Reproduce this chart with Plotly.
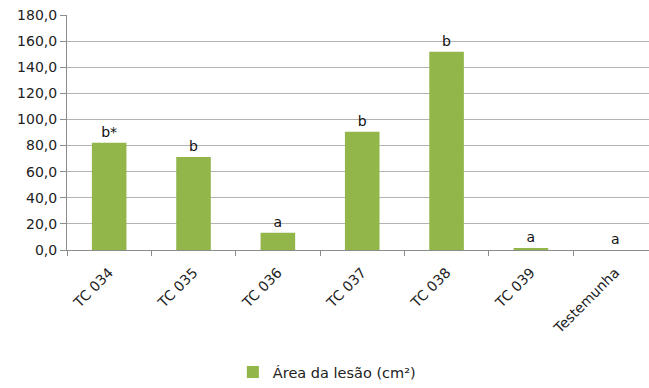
import plotly.graph_objects as go

categories = ["TC 034", "TC 035", "TC 036", "TC 037", "TC 038", "TC 039", "Testemunha"]
values = [82.1, 71.2, 13.3, 90.6, 151.8, 1.5, 0.0]
letters = ["b*", "b", "a", "b", "b", "a", "a"]
y_ticks = [0, 20, 40, 60, 80, 100, 120, 140, 160, 180]
y_tick_labels = ["0,0", "20,0", "40,0", "60,0", "80,0", "100,0", "120,0", "140,0", "160,0", "180,0"]

font_family = "DejaVu Sans"

fig = go.Figure()
fig.add_trace(go.Bar(
    x=categories,
    y=values,
    name="Área da lesão (cm²)",
    marker=dict(color="#92b649", line=dict(width=0)),
    text=letters,
    textposition="outside",
    textfont=dict(family=font_family, size=14, color="#111111"),
    cliponaxis=False,
))

fig.update_layout(
    width=649,
    height=388,
    margin=dict(l=67, r=0, t=15, b=137),
    paper_bgcolor="white",
    plot_bgcolor="white",
    bargap=0.59,
    font=dict(family=font_family, size=13, color="#222222"),
    showlegend=True,
    legend=dict(
        orientation="h",
        x=0.285, xanchor="left",
        y=-0.52, yanchor="middle",
        font=dict(family=font_family, size=14.5, color="#222222"),
        itemwidth=30,
    ),
)

fig.update_xaxes(
    type="category",
    range=[-0.5, 6.4],
    tickangle=-45,
    tickson="boundaries",
    ticks="outside",
    ticklen=5,
    tickcolor="#8c8c8c",
    showline=True,
    linecolor="#8c8c8c",
    linewidth=1,
    showgrid=False,
    ticklabelstandoff=8,
    tickfont=dict(family=font_family, size=14, color="#222222"),
)

fig.update_yaxes(
    range=[0, 180],
    tickmode="array",
    tickvals=y_ticks,
    ticktext=y_tick_labels,
    ticks="outside",
    ticklen=6,
    tickcolor="#8c8c8c",
    showline=True,
    linecolor="#8c8c8c",
    linewidth=1,
    showgrid=True,
    gridcolor="#b3b3b3",
    gridwidth=1,
    zeroline=False,
    tickfont=dict(family=font_family, size=14, color="#222222"),
)

fig.write_html("out.html")
